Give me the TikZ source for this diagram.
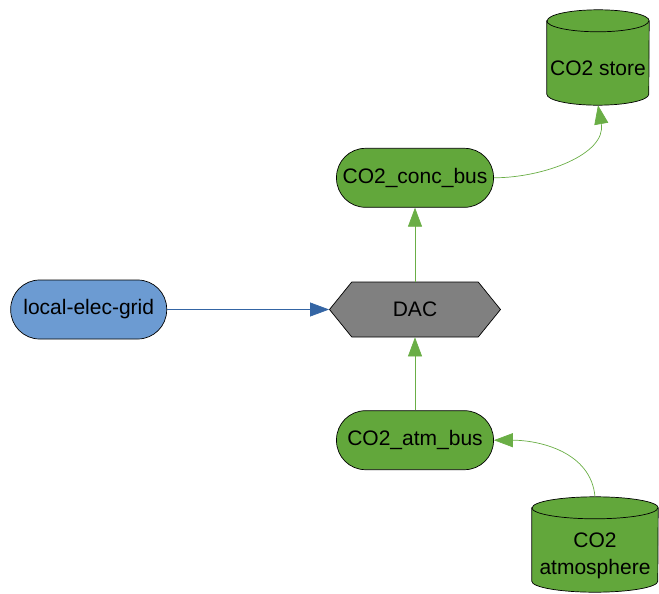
\documentclass[tikz,border=0pt]{standalone}
\usepackage{fontspec}
\setmainfont{Liberation Sans}
\usepackage{tikz}
\usetikzlibrary{shapes.symbols, arrows.meta, positioning, backgrounds}
\definecolor{busGreen}{HTML}{62A73B}
\definecolor{gridBlue}{HTML}{6C9BD2}
\definecolor{linkBlue}{HTML}{3465A4}
\definecolor{flowGreen}{HTML}{6AAE46}
\definecolor{dacGrey}{HTML}{808080}

\begin{document}
\begin{tikzpicture}[
            x=1pt, y=-1pt,
            every node/.style={font=\fontsize{21}{27}\selectfont},
            bus/.style={rectangle, draw=black, line width=0.7pt, rounded corners=29pt, minimum width=157pt, minimum height=59pt, inner sep=0pt},
            tank/.style={rectangle, minimum width=102pt, minimum height=73pt, inner sep=0pt, align=center},
            tankline/.style={draw=black, line width=0.7pt, fill=busGreen},
            unit/.style={signal, signal to=east and west, signal pointer angle=102, draw=black, line width=0.7pt, fill=dacGrey, minimum width=171pt, minimum height=55pt, inner sep=0pt},
            arrow/.style={-{Triangle[length=19pt, width=14pt]}, line width=0.7pt}
        ]
            \useasboundingbox (0,0) rectangle (659,594);

            % Nodes
            \node[unit] (dac) at (415,309.5) {DAC};
            \node[bus, fill=busGreen, above=74pt of dac] (concbus) {CO2\_conc\_bus};
            \node[bus, fill=busGreen, below=73pt of dac] (atmbus) {CO2\_atm\_bus};
            \node[bus, fill=gridBlue, minimum width=156pt, left=162pt of dac] (grid) {local-elec-grid};
            \node[tank] (co2store) at (598,68.5) {CO2 store};
            \node[tank, minimum width=126pt] (co2atm) at (595,555.5) {CO2\\atmosphere};

            % Cylinders
            \begin{scope}[on background layer]
            \path[tankline] ([yshift=11pt]co2store.north west) -- ([yshift=11pt]co2store.south west)
                arc[start angle=180, end angle=360, x radius=51pt, y radius=11pt]
                -- ([yshift=11pt]co2store.north east)
                arc[start angle=0, end angle=180, x radius=51pt, y radius=11pt] -- cycle;
            \draw[line width=0.7pt] ([yshift=11pt]co2store.north west)
                arc[start angle=180, end angle=360, x radius=51pt, y radius=11pt];
            \path[tankline] ([yshift=11pt]co2atm.north west) -- ([yshift=11pt]co2atm.south west)
                arc[start angle=180, end angle=360, x radius=63pt, y radius=11pt]
                -- ([yshift=11pt]co2atm.north east)
                arc[start angle=0, end angle=180, x radius=63pt, y radius=11pt] -- cycle;
            \draw[line width=0.7pt] ([yshift=11pt]co2atm.north west)
                arc[start angle=180, end angle=360, x radius=63pt, y radius=11pt];
            \end{scope}

            % Arrows
            \draw[arrow, linkBlue] (grid.east) to[out=0, in=180] (dac.west);
            \draw[arrow, flowGreen] (dac.north) -- (concbus.south);
            \draw[arrow, flowGreen] (atmbus.north) -- (dac.south);
            \draw[arrow, flowGreen] (concbus.east) to[out=0, in=-80] (co2store.south);
            \draw[arrow, flowGreen] ([yshift=22pt]co2atm.north) to[out=95, in=0] (atmbus.east);
        \end{tikzpicture}
\end{document}
